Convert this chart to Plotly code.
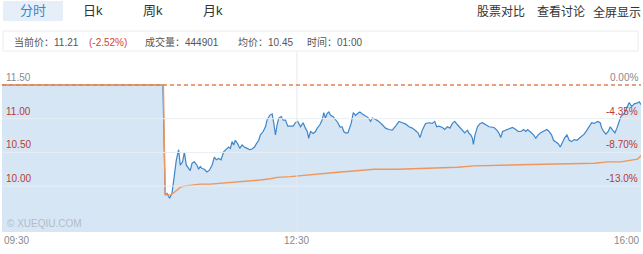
import plotly.graph_objects as go

# ---- intraday data (minutes after 09:30) ----
price_min = [0, 98.2, 99.6, 100.7, 102.3, 103.7, 105.1, 106.4, 107.8, 108.8, 110.2, 111.3, 112.5, 113.9,
             114.9, 116.0, 117.4, 119.0, 120.0, 121.0, 122.1, 123.5, 125.1, 126.7, 128.2, 129.6, 130.8,
             132.2, 133.7, 135.3, 136.9, 138.3, 139.4, 140.4, 141.4, 142.4, 143.8, 145.1, 146.5, 147.9,
             149.6, 151.2, 152.6, 154.1, 155.3, 156.7, 157.7, 159.4, 160.8, 161.8, 163.4, 164.9, 165.9,
             166.9, 167.9, 168.9, 170.4, 171.6, 173.0, 174.4, 176.1, 177.7, 179.1, 180.5, 182.2, 183.8,
             185.2, 186.3, 187.2, 188.3, 189.9, 191.3, 192.4, 194.0, 195.4, 196.4, 197.4, 198.5, 199.5,
             200.5, 202.1, 203.6, 205.0, 206.2, 207.6, 208.6, 209.7, 211.1, 212.3, 213.1, 214.4, 215.8,
             217.2, 218.4, 219.9, 221.9, 223.3, 225.0, 226.0, 228.0, 230.0, 232.1, 234.1, 236.2, 238.2,
             240.2, 242.3, 244.3, 246.4, 248.4, 250.4, 252.5, 253.9, 255.1, 256.5, 258.5, 260.6, 262.6,
             264.1, 265.3, 266.7, 268.8, 270.2, 271.8, 273.4, 274.9, 276.3, 278.0, 279.6, 281.0, 282.4,
             284.1, 285.1, 286.1, 287.1, 287.7, 288.7, 290.2, 291.8, 293.2, 295.3, 297.3, 300.3, 302.0,
             303.4, 304.4, 305.5, 307.5, 309.5, 311.6, 313.6, 315.0, 316.7, 318.3, 319.7, 320.8, 322.2,
             324.4, 325.8, 327.2, 328.8, 330.9, 332.5, 333.9, 335.4, 336.6, 338.0, 339.5, 340.7, 342.1,
             343.5, 344.8, 346.2, 347.6, 349.2, 350.9, 352.3, 353.7, 355.3, 357.0, 358.4, 359.9, 361.5,
             363.5, 365.1, 366.0, 367.2, 368.6, 370.0, 371.2, 372.7, 374.1, 375.3, 376.7, 377.7, 379.8,
             381.4, 382.8, 384.3, 385.9, 387.5, 388.9, 390.0]
price = [11.50, 11.50, 9.87, 9.89, 9.82, 9.89, 10.14, 10.39, 10.54, 10.31, 10.36, 10.50, 10.31, 10.26,
         10.23, 10.34, 10.36, 10.31, 10.25, 10.29, 10.26, 10.25, 10.21, 10.24, 10.31, 10.43, 10.39,
         10.41, 10.39, 10.51, 10.54, 10.58, 10.56, 10.66, 10.61, 10.68, 10.63, 10.56, 10.61, 10.58,
         10.56, 10.54, 10.55, 10.58, 10.63, 10.68, 10.76, 10.81, 10.88, 10.98, 11.05, 11.07, 10.93,
         10.76, 10.91, 11.01, 11.03, 10.98, 10.98, 10.89, 10.89, 10.89, 10.94, 10.96, 10.88, 10.94,
         10.86, 10.81, 10.71, 10.81, 10.78, 10.81, 10.86, 10.91, 10.98, 11.09, 11.01, 11.08, 11.10,
         11.05, 11.03, 10.98, 10.94, 10.88, 10.88, 10.81, 10.79, 10.79, 10.88, 10.93, 11.09, 11.05,
         11.08, 11.10, 11.07, 11.04, 11.02, 10.96, 11.01, 10.99, 10.96, 10.91, 10.86, 10.84, 10.83,
         10.89, 10.96, 10.94, 10.92, 10.88, 10.86, 10.82, 10.79, 10.72, 10.83, 10.93, 10.94, 10.93,
         10.96, 10.88, 10.89, 10.87, 10.84, 10.88, 10.86, 10.93, 10.96, 10.91, 10.86, 10.83, 10.79,
         10.83, 10.78, 10.76, 10.71, 10.62, 10.76, 10.88, 10.93, 10.94, 10.91, 10.88, 10.87, 10.83,
         10.78, 10.72, 10.81, 10.83, 10.84, 10.87, 10.84, 10.81, 10.81, 10.84, 10.81, 10.84, 10.81,
         10.76, 10.71, 10.76, 10.79, 10.82, 10.84, 10.81, 10.76, 10.68, 10.66, 10.63, 10.58, 10.66,
         10.72, 10.76, 10.68, 10.66, 10.69, 10.68, 10.71, 10.74, 10.77, 10.83, 10.88, 10.94, 10.93,
         10.96, 10.94, 10.86, 10.81, 10.77, 10.81, 10.88, 10.83, 10.79, 10.86, 10.98, 11.03, 11.08,
         11.18, 11.24, 11.18, 11.22, 11.23, 11.25, 11.21]

avg_min = [0, 98.5, 99.6, 103.1, 105.8, 108.8, 110.8, 114.9, 121.0, 127.1, 133.3, 139.4, 145.5, 151.6,
           157.7, 163.8, 167.9, 176.1, 184.2, 190.3, 196.4, 202.5, 206.6, 212.7, 218.8, 227.0, 241.3,
           253.5, 261.6, 278.0, 288.1, 302.4, 312.6, 322.8, 361.5, 369.6, 377.7, 383.8, 387.9, 390.0]
avg_price = [11.50, 11.50, 9.87, 9.87, 9.92, 9.98, 10.00, 10.01, 10.03, 10.03, 10.04, 10.06, 10.07, 10.08,
             10.09, 10.11, 10.13, 10.14, 10.16, 10.18, 10.19, 10.20, 10.21, 10.22, 10.23, 10.25, 10.25,
             10.26, 10.27, 10.28, 10.30, 10.31, 10.32, 10.32, 10.34, 10.36, 10.36, 10.39, 10.40, 10.45]

prev_close = 11.50
price_levels = [11.50, 11.00, 10.50, 10.00]
price_labels = ["11.50", "11.00", "10.50", "10.00"]
pct_labels = ["0.00%", "-4.35%", "-8.70%", "-13.0%"]
time_ticks = [0, 180, 390]
time_labels = ["09:30", "12:30", "16:00"]

tabs = ["分时", "日k", "周k", "月k"]
links = ["股票对比", "查看讨论", "全屏显示"]
last_price = "11.21"
last_change = "(-2.52%)"
volume = "444901"
avg_now = "10.45"
clock = "01:00"

W, H = 643, 254
ML, MR, MT, MB = 2, 2, 51, 22
PH = H - MT - MB

FONT = "Liberation Sans, Arial, Noto Sans CJK SC, sans-serif"
RED = "#b83a32"
GRAY = "#8a8a8a"


def py(ypx):
    # pixel row -> paper y
    return (H - MB - ypx) / PH


def px(xpx):
    return (xpx - ML) / (W - ML - MR)


fig = go.Figure()
fig.add_trace(go.Scatter(
    x=price_min, y=price, mode="lines", fill="tozeroy",
    fillcolor="#d6e6f5", line=dict(color="#3f86c9", width=1.2),
    hoverinfo="skip", showlegend=False))
fig.add_trace(go.Scatter(
    x=avg_min, y=avg_price, mode="lines",
    line=dict(color="#f0965a", width=1.4),
    hoverinfo="skip", showlegend=False))

shapes = []
# horizontal grid lines
for lv in price_levels[1:]:
    shapes.append(dict(type="line", xref="paper", yref="y", x0=0, x1=1, y0=lv, y1=lv,
                       line=dict(color="#e8eef4", width=1), layer="above"))
# vertical grid line at midday tick
shapes.append(dict(type="line", xref="x", yref="paper", x0=time_ticks[1], x1=time_ticks[1],
                   y0=0, y1=1, line=dict(color="#e3e9ef", width=1), layer="above"))
# previous close
shapes.append(dict(type="line", xref="paper", yref="y", x0=0, x1=1, y0=prev_close, y1=prev_close,
                   line=dict(color="#e8804f", width=1.3, dash="4px,3px"), layer="above"))
# selected tab background
shapes.append(dict(type="rect", xref="paper", yref="paper", x0=px(3), x1=px(63), y0=py(21), y1=py(1),
                   fillcolor="#e6eef8", line=dict(width=0), layer="below"))
# info bar border
shapes.append(dict(type="rect", xref="paper", yref="paper", x0=px(3), x1=px(638), y0=py(51), y1=py(31),
                   fillcolor="rgba(0,0,0,0)", line=dict(color="#ececec", width=1), layer="below"))

ann = []
for lv, pl, pc in zip(price_levels, price_labels, pct_labels):
    col = GRAY if lv == prev_close else RED
    ann.append(dict(x=0, xref="paper", y=lv, yref="y", text=pl, xanchor="left", yanchor="bottom",
                    xshift=2, yshift=0, showarrow=False, font=dict(size=10, color=col, family=FONT)))
    ann.append(dict(x=1, xref="paper", y=lv, yref="y", text=pc, xanchor="right", yanchor="bottom",
                    xshift=-1, yshift=0, showarrow=False, font=dict(size=10, color=col, family=FONT)))

anchors = ["left", "center", "right"]
for t, lab, a in zip(time_ticks, time_labels, anchors):
    ann.append(dict(x=t, xref="x", y=0, yref="paper", text=lab, xanchor=a, yanchor="top",
                    xshift=0, yshift=-1, showarrow=False, font=dict(size=10, color=GRAY, family=FONT)))

ann.append(dict(x=0, xref="paper", y=0, yref="paper", text="© XUEQIU.COM", xanchor="left",
                yanchor="bottom", xshift=3, yshift=1, showarrow=False,
                font=dict(size=10, color="#b4bcc6", family=FONT)))

# tabs
tab_x = [33, 93, 153, 213]
for name, xc in zip(tabs, tab_x):
    ann.append(dict(x=px(xc), xref="paper", y=py(11), yref="paper", text=name, xanchor="center",
                    yanchor="middle", showarrow=False,
                    font=dict(size=13, color="#3b84d0" if name == tabs[0] else "#333333", family=FONT)))

# right-side links
link_x = [501, 561, 617]
for name, xc in zip(links, link_x):
    ann.append(dict(x=px(xc), xref="paper", y=py(12), yref="paper", text=name, xanchor="center",
                    yanchor="middle", showarrow=False, font=dict(size=12, color="#333333", family=FONT)))

# info bar
info = [
    (13, "当前价：" + last_price, "#555555"),
    (88, last_change, "#d0433b"),
    (144, "成交量：" + volume, "#555555"),
    (237, "均价：" + avg_now, "#555555"),
    (306, "时间：" + clock, "#555555"),
]
for xl, txt, col in info:
    ann.append(dict(x=px(xl), xref="paper", y=py(42), yref="paper", text=txt, xanchor="left",
                    yanchor="middle", showarrow=False, xshift=-1,
                    font=dict(size=10, color=col, family=FONT)))

y_lo = prev_close - (232 - 85) / 67.4
y_hi = prev_close + (85 - 51) / 67.4

fig.update_layout(
    width=W, height=H,
    margin=dict(l=ML, r=MR, t=MT, b=MB, pad=0),
    paper_bgcolor="white", plot_bgcolor="white",
    xaxis=dict(range=[0, 390], showgrid=False, zeroline=False, showticklabels=False, ticks="",
               fixedrange=True),
    yaxis=dict(range=[y_lo, y_hi], showgrid=False, zeroline=False, showticklabels=False, ticks="",
               fixedrange=True),
    shapes=shapes, annotations=ann, showlegend=False,
)

fig.write_html("out.html", config={"displayModeBar": False})
